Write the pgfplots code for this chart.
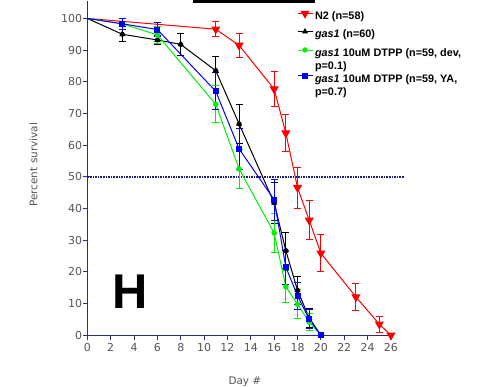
\documentclass[border=0pt]{standalone}
\usepackage{pgfplots}
\usepackage{pgfplotstable}
\pgfplotsset{compat=1.18}
\usepackage{fontspec}
\setmainfont{Liberation Sans}
\newfontfamily\dv{DejaVu Sans}
\definecolor{axblue}{RGB}{40,45,130}
\definecolor{navy}{RGB}{30,30,120}
\definecolor{tickgray}{RGB}{85,85,85}
\definecolor{myred}{RGB}{255,0,0}
\definecolor{mygreen}{RGB}{0,240,0}
\definecolor{myblue}{RGB}{0,0,255}

\pgfplotstableread{
x y e
0 100 0
11 96.6 2.4
13 91.5 3.7
16 77.7 5.6
17 63.8 5.8
18 46.6 6.5
19 36.3 6.2
20 25.9 5.8
23 12.1 4.3
25 3.5 2.5
26 0 0
}\tred
\pgfplotstableread{
x y e
0 100 0
3 95.0 2.4
6 93.2 1.5
8 91.8 3.6
11 83.5 4.6
13 66.7 6.1
16 41.8 6.4
17 26.7 5.7
18 14.2 4.5
19 5.5 3.0
20 0 0
}\tblack
\pgfplotstableread{
x y e
0 100 0
3 98.3 1.7
6 94.8 2.8
11 72.9 5.8
13 52.5 6.1
16 32.3 6.1
17 15.3 5.0
18 9.8 4.6
19 4.2 2.6
20 0 0
}\tgreen
\pgfplotstableread{
x y e
0 100 0
3 98.3 1.7
6 96.5 2.3
11 77.0 5.8
13 58.8 6.6
16 42.8 6.5
17 21.5 5.4
18 12.5 4.2
19 5.1 2.9
20 0 0
}\tblue

\pgfplotsset{
  geom/.style={at={(0,0)}, anchor=south west, scale only axis,
    width=306bp, height=334.3bp, xmin=0, xmax=26.2, ymin=0, ymax=105.5},
  errstyle/.style={#1, only marks, mark=none, forget plot,
    error bars/y dir=both, error bars/y explicit, error bars/error mark=-,
    error bars/error bar style={draw=#1, line width=1bp, solid},
    error bars/error mark options={draw=#1, mark size=3.5bp, line width=1bp, rotate=90}},
  legax/.style={geom, hide axis, legend cell align=left,
    legend style={draw=none, fill=none, inner sep=0pt, outer sep=0pt,
      at={(axis description cs:0.6853,#1)}, anchor=west,
      font=\bfseries\fontsize{10.9}{13}\selectfont, column sep=2bp,
      nodes={inner sep=0pt, outer sep=0pt}},
    legend image code/.code={\draw[mark repeat=2,mark phase=2] plot coordinates {(0bp,0bp) (7.5bp,0bp) (15bp,0bp)};}},
}
\newcommand\lt[1]{\rule[-6bp]{0pt}{12bp}\raisebox{-4bp}[0pt][0pt]{#1}}
\newcommand\ltt[2]{\rule[-6bp]{0pt}{12bp}\rlap{\raisebox{-16.8bp}[0pt][0pt]{#2}}\raisebox{-4bp}[0pt][0pt]{#1}}

\begin{document}
\begin{tikzpicture}
\useasboundingbox (-87.3bp,-51.7bp) rectangle (392.7bp,335.3bp);
\fill (105.7bp,332.6bp) rectangle (227.7bp,336bp);
\begin{axis}[
  geom,
  axis lines*=left,
  axis line style={axblue, line width=1.2bp},
  xtick={0,2,...,26}, ytick={0,10,...,100},
  tick align=outside, major tick length=4.5bp,
  tick style={axblue, line width=1bp},
  extra y ticks={0,50,100}, extra y tick labels={},
  extra y tick style={tick align=center, major tick length=8bp},
  ticklabel style={font=\dv\fontsize{11}{13}\selectfont, text=tickgray},
  yticklabel style={inner sep=0.5bp},
  /pgf/number format/assume math mode=true,
  clip=false,
  xlabel={Day \#}, ylabel={Percent survival},
  label style={font=\dv\fontsize{10.5}{12}\selectfont, text=tickgray},
  xlabel style={at={(axis description cs:0.515,-0.1466)}, anchor=base},
  ylabel style={at={(axis description cs:-0.1634,0.51)}, anchor=base},
  every axis plot/.append style={line width=1bp},
]
\addplot[navy, line width=1.3bp, dash pattern=on 1.6bp off 1bp, forget plot] coordinates {(0,50) (27.1,50)};

% red N2
\addplot[errstyle=myred, skip coords between index={0}{1}, skip coords between index={10}{11}]
  table[x=x, y=y, y error=e] {\tred};
\addplot[myred, mark=triangle*, mark size=4.3bp, mark options={rotate=180, solid}, mark indices={2,...,11}]
  table[x=x, y=y] {\tred};

% black gas1
\addplot[errstyle=black, skip coords between index={0}{1}, skip coords between index={10}{11}]
  table[x=x, y=y, y error=e] {\tblack};
\addplot[black, mark=triangle*, mark size=2.6bp, mark options={solid}, mark indices={2,...,11}]
  table[x=x, y=y] {\tblack};

% green
\addplot[errstyle=mygreen, skip coords between index={0}{1}, skip coords between index={9}{10}]
  table[x=x, y=y, y error=e] {\tgreen};
\addplot[mygreen, mark=*, mark size=2.2bp, mark options={solid}, mark indices={2,...,10}]
  table[x=x, y=y] {\tgreen};

% blue
\addplot[errstyle=myblue, skip coords between index={0}{1}, skip coords between index={9}{10}]
  table[x=x, y=y, y error=e] {\tblue};
\addplot[myblue, mark=square*, mark size=2.5bp, mark options={solid}, mark indices={2,...,10}]
  table[x=x, y=y] {\tblue};

\node[font=\bfseries\fontsize{49}{50}\selectfont, inner sep=0pt] at (axis cs:3.7,13.8) {H};
\end{axis}

\begin{axis}[legax=0.9620]
\addlegendimage{myred, line width=1bp, mark=triangle*, mark size=4.3bp, mark options={rotate=180, solid}}
\addlegendentry{\lt{N2 (n=58)}}
\end{axis}
\begin{axis}[legax=0.9082]
\addlegendimage{black, line width=1bp, mark=triangle*, mark size=2.6bp, mark options={solid}}
\addlegendentry{\lt{\textit{gas1} (n=60)}}
\end{axis}
\begin{axis}[legax=0.8534]
\addlegendimage{mygreen, line width=1bp, mark=*, mark size=2.2bp, mark options={solid}}
\addlegendentry{\ltt{\textit{gas1} 10uM DTPP (n=59, dev,}{p=0.1)}}
\end{axis}
\begin{axis}[legax=0.7757]
\addlegendimage{myblue, line width=1bp, mark=square*, mark size=2.5bp, mark options={solid}}
\addlegendentry{\ltt{\textit{gas1} 10uM DTPP (n=59, YA,}{p=0.7)}}
\end{axis}
\end{tikzpicture}
\end{document}
